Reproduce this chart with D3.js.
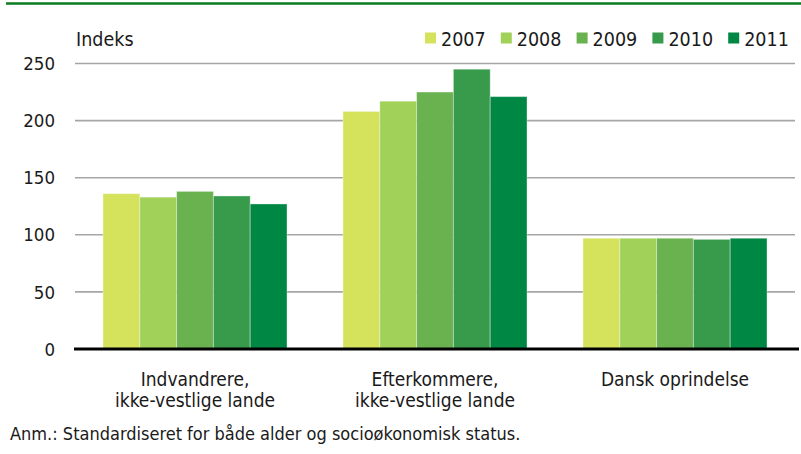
<!DOCTYPE html>
<html>
<head>
<meta charset="utf-8">
<script src="https://cdn.jsdelivr.net/npm/d3@7"></script>
<style>
  body { margin: 0; background: #fff; }
  svg { display: block; font-family: "Liberation Sans Narrow", "Arial Narrow", "DejaVu Sans Condensed", sans-serif; }
</style>
</head>
<body>
<svg id="chart" width="801" height="454"></svg>
<script>
// //////// DATA
const categories = [
  ["Indvandrere,", "ikke-vestlige lande"],
  ["Efterkommere,", "ikke-vestlige lande"],
  ["Dansk oprindelse"],
];
const years = ["2007", "2008", "2009", "2010", "2011"];
const values2007 = [136, 208, 97];
const values2008 = [133, 217, 97];
const values2009 = [138, 225, 97];
const values2010 = [134, 245, 96];
const values2011 = [127, 221, 97];
const yTicks = [0, 50, 100, 150, 200, 250];
const colors = ["#d5e25c", "#a2d15a", "#6ab14f", "#379b4b", "#008744"];

const series = [values2007, values2008, values2009, values2010, values2011];

// //////// LAYOUT
const svg = d3.select("#chart");
const plotLeft = 75, plotRight = 795, plotTop = 63.5, plotBottom = 349;

const x0 = d3
  .scaleBand()
  .domain(d3.range(categories.length))
  .range([plotLeft, plotRight])
  .paddingInner(56 / 240)
  .paddingOuter(28 / 240);

const x1 = d3.scaleBand().domain(years).range([0, x0.bandwidth()]);

const y = d3.scaleLinear().domain([0, 250]).range([plotBottom, plotTop]);

// top rule
svg.append("line")
  .attr("x1", 6).attr("x2", 801)
  .attr("y1", 3.5).attr("y2", 3.5)
  .attr("stroke", "#0a7d20")
  .attr("stroke-width", 2.5);

// gridlines
svg.append("g")
  .selectAll("line")
  .data(yTicks.filter((d) => d > 0))
  .join("line")
  .attr("x1", plotLeft).attr("x2", plotRight)
  .attr("y1", (d) => y(d)).attr("y2", (d) => y(d))
  .attr("stroke", "#a6a6a6")
  .attr("stroke-width", 1.6);

// y tick labels
svg.append("g")
  .attr("text-anchor", "end")
  .attr("font-size", 18.5)
  .attr("fill", "#1a1a1a")
  .selectAll("text")
  .data(yTicks)
  .join("text")
  .attr("x", 55)
  .attr("y", (d) => y(d))
  .attr("dy", "0.36em")
  .text((d) => d);

svg.append("text")
  .attr("x", 76).attr("y", 46)
  .attr("font-size", 19.5)
  .attr("fill", "#1a1a1a")
  .text("Indeks");

// bars
const groups = svg.append("g")
  .selectAll("g")
  .data(categories)
  .join("g")
  .attr("transform", (d, i) => `translate(${x0(i)},0)`);

groups.selectAll("rect")
  .data((d, i) => years.map((yr, j) => ({ yr, j, v: series[j][i] })))
  .join("rect")
  .attr("x", (d) => x1(d.yr))
  .attr("y", (d) => y(d.v))
  .attr("width", x1.bandwidth())
  .attr("height", (d) => y(0) - y(d.v))
  .attr("fill", (d) => colors[d.j])
  .attr("stroke", "rgba(255,255,255,0.35)")
  .attr("stroke-width", 1);

// baseline
svg.append("line")
  .attr("x1", 74).attr("x2", 799)
  .attr("y1", plotBottom).attr("y2", plotBottom)
  .attr("stroke", "#000")
  .attr("stroke-width", 3);

// category labels
svg.append("g")
  .attr("text-anchor", "middle")
  .attr("font-size", 19)
  .attr("fill", "#1a1a1a")
  .selectAll("text")
  .data(categories)
  .join("text")
  .attr("x", (d, i) => x0(i) + x0.bandwidth() / 2)
  .attr("y", 386)
  .each(function (lines) {
    d3.select(this)
      .selectAll("tspan")
      .data(lines)
      .join("tspan")
      .attr("x", d3.select(this).attr("x"))
      .attr("dy", (d, k) => (k === 0 ? 0 : 21))
      .text((d) => d);
  });

// legend
const legend = svg.append("g")
  .selectAll("g")
  .data(years)
  .join("g")
  .attr("transform", (d, i) => `translate(${425 + i * 75.8},0)`);

legend.append("rect")
  .attr("x", 0).attr("y", 32.5)
  .attr("width", 11).attr("height", 11)
  .attr("fill", (d, i) => colors[i]);

legend.append("text")
  .attr("x", 16).attr("y", 45.5)
  .attr("font-size", 19.5)
  .attr("fill", "#1a1a1a")
  .text((d) => d);

// note
svg.append("text")
  .attr("x", 10).attr("y", 440)
  .attr("font-size", 18)
  .attr("fill", "#1a1a1a")
  .text("Anm.: Standardiseret for både alder og socioøkonomisk status.");
</script>
</body>
</html>
